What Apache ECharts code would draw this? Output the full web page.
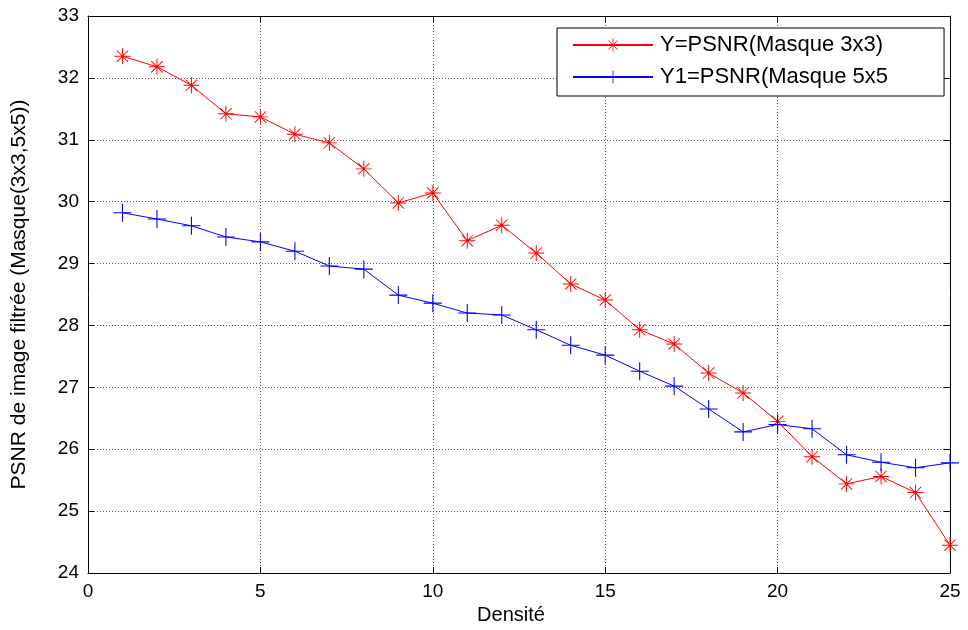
<!DOCTYPE html>
<html><head><meta charset="utf-8">
<script src="https://cdn.jsdelivr.net/npm/echarts@6/dist/echarts.min.js"></script>
<style>html,body{margin:0;padding:0;background:#fff}#c{width:968px;height:630px}</style>
</head><body><div id="c"></div>
<script>
const densite = [1,2,3,4,5,6,7,8,9,10,11,12,13,14,15,16,17,18,19,20,21,22,23,24,25];
const psnr3x3 = [32.35,32.18,31.88,31.42,31.37,31.09,30.95,30.53,29.98,30.14,29.37,29.62,29.17,28.67,28.41,27.93,27.70,27.23,26.91,26.45,25.88,25.44,25.56,25.30,24.45];
const psnr5x5 = [29.82,29.72,29.61,29.43,29.35,29.20,28.96,28.91,28.49,28.36,28.20,28.17,27.93,27.68,27.52,27.26,27.02,26.65,26.28,26.40,26.33,25.91,25.79,25.70,25.78];
const xTicks = [0,5,10,15,20,25];
const yTicks = [24,25,26,27,28,29,30,31,32,33];
const seriesNames = ['Y=PSNR(Masque 3x3)','Y1=PSNR(Masque 5x5'];

const star = 'path://M-0.6,-10L0.6,-10L0.6,10L-0.6,10Z M-10,-0.6L10,-0.6L10,0.6L-10,0.6Z M-7.5,-6.7L-6.7,-7.5L7.5,6.7L6.7,7.5Z M6.7,-7.5L7.5,-6.7L-6.7,7.5L-7.5,6.7Z';
const plus = 'path://M-0.6,-10L0.6,-10L0.6,10L-0.6,10Z M-10,-0.6L10,-0.6L10,0.6L-10,0.6Z';

const font = 'Liberation Sans, Arial, sans-serif';
const chart = echarts.init(document.getElementById('c'), null, {renderer:'canvas'});
const gridLine = {show:true, lineStyle:{color:'#555', type:[1,2], width:1}};
chart.setOption({
  animation:false,
  backgroundColor:'#fff',
  grid:{left:88, right:18, top:16, bottom:57, containLabel:false, outerBoundsMode:'none'},
  legend:{
    orient:'vertical', left:557, top:28,
    data:seriesNames,
    backgroundColor:'#fff', borderColor:'#000', borderWidth:1,
    padding:[6,56,8,15], itemGap:10, itemWidth:80, itemHeight:16,
    textStyle:{fontFamily:font, fontSize:22, color:'#000', padding:[0,0,0,2]}
  },
  xAxis:[{
    type:'value', min:0, max:25, interval:5,
    name:'Densité', nameLocation:'middle', nameGap:29,
    nameTextStyle:{fontFamily:font, fontSize:20, color:'#000', padding:[0,16,0,0]},
    axisLine:{show:true, onZero:false, lineStyle:{color:'#000'}},
    axisTick:{show:true, inside:true, length:6, lineStyle:{color:'#000'}},
    axisLabel:{fontFamily:font, fontSize:19, color:'#000', margin:9},
    splitLine:gridLine
  },{
    type:'value', position:'top', min:0, max:25, interval:5,
    axisLine:{show:true, onZero:false, lineStyle:{color:'#000'}},
    axisTick:{show:true, inside:true, length:6, lineStyle:{color:'#000'}},
    axisLabel:{show:false}, splitLine:{show:false}
  }],
  yAxis:[{
    type:'value', min:24, max:33, interval:1,
    name:'PSNR de image filtrée (Masque(3x3,5x5))', nameLocation:'middle', nameGap:58,
    nameTextStyle:{fontFamily:font, fontSize:21, color:'#000'},
    axisLine:{show:true, onZero:false, lineStyle:{color:'#000'}},
    axisTick:{show:true, inside:true, length:6, lineStyle:{color:'#000'}},
    axisLabel:{fontFamily:font, fontSize:19, color:'#000', margin:9},
    splitLine:gridLine
  },{
    type:'value', position:'right', min:24, max:33, interval:1,
    axisLine:{show:true, onZero:false, lineStyle:{color:'#000'}},
    axisTick:{show:true, inside:true, length:6, lineStyle:{color:'#000'}},
    axisLabel:{show:false}, splitLine:{show:false}
  }],
  series:[{
    name:seriesNames[0], type:'line',
    data:densite.map((d,i)=>[d,psnr3x3[i]]),
    symbol:star, symbolSize:16, symbolKeepAspect:true,
    lineStyle:{color:'#ff0000', width:1},
    itemStyle:{color:'#ff0000'}
  },{
    name:seriesNames[1], type:'line',
    data:densite.map((d,i)=>[d,psnr5x5[i]]),
    symbol:plus, symbolSize:18, symbolKeepAspect:true,
    lineStyle:{color:'#0000ff', width:1},
    itemStyle:{color:'#0000ff'}
  }]
});
</script></body></html>
